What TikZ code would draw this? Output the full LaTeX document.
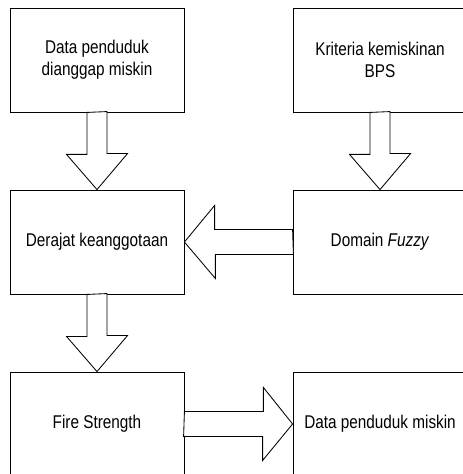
\documentclass[tikz,border=0pt]{standalone}
\usepackage{fontspec}
\setmainfont{Liberation Sans}
\newfontfamily\boxfont[FakeStretch=0.83]{Liberation Sans}
\usepackage{xcolor}

\begin{document}
\begin{tikzpicture}[
    box/.style={draw,line width=0.8pt,minimum width=5.8cm,minimum height=3.467cm,
      align=center,font=\boxfont\fontsize{17.5}{20.5}\selectfont},
    blockarrow/.style={draw,line width=0.8pt,fill=white,line join=miter}]
  \useasboundingbox (0,0) rectangle (15.433,15.8);
  \clip (0,0) rectangle (15.433,15.8);

  \node[box] (data) at (3.233,13.8) {Data penduduk\\dianggap miskin};
  \node[box] (kriteria) at (12.667,13.8) {Kriteria kemiskinan\\BPS};
  \node[box] (derajat) at (3.233,7.733) {Derajat keanggotaan};
  \node[box] (domain) at (12.667,7.733) {Domain \textit{Fuzzy}};
  \node[box] (fire) at (3.233,1.667) {Fire Strength};
  \node[box] (miskin) at (12.667,1.667) {Data penduduk miskin};

  % down arrows
  \draw[blockarrow] (data.south) ++(-0.333,0) -- ++(0,-1.4) -- ++(-0.683,0)
    -- (derajat.north) -- ++(1.017,1.2) -- ++(-0.683,0) -- ++(0,1.4) -- cycle;
  \draw[blockarrow] (kriteria.south) ++(-0.333,0) -- ++(0,-1.4) -- ++(-0.683,0)
    -- (domain.north) -- ++(1.017,1.2) -- ++(-0.683,0) -- ++(0,1.4) -- cycle;
  \draw[blockarrow] (derajat.south) ++(-0.333,0) -- ++(0,-1.4) -- ++(-0.683,0)
    -- (fire.north) -- ++(1.017,1.2) -- ++(-0.683,0) -- ++(0,1.4) -- cycle;

  % side arrows
  \draw[blockarrow] (domain.west) ++(0,0.417) -- ++(-2.6,0) -- ++(0,0.8)
    -- (derajat.east) -- ++(1.033,-1.217) -- ++(0,0.8) -- ++(2.6,0) -- cycle;
  \draw[blockarrow] (fire.east) ++(0,0.417) -- ++(2.633,0) -- ++(0,0.8)
    -- (miskin.west) -- ++(-1.0,-1.217) -- ++(0,0.8) -- ++(-2.633,0) -- cycle;
\end{tikzpicture}
\end{document}
